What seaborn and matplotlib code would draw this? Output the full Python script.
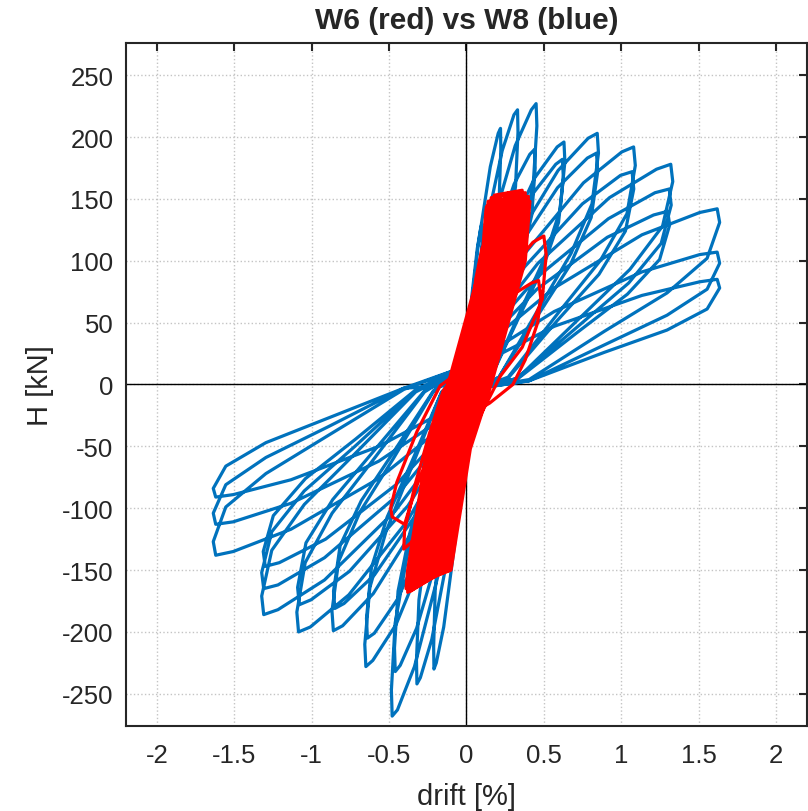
import numpy as np
import pandas as pd
import matplotlib
matplotlib.use("Agg")
import matplotlib.pyplot as plt
import seaborn as sns

# W8 (blue) hysteresis, one list per load cycle, (drift %, H kN)
w8_cycle_01 = [(0.0, 0), (0.01, 33), (0.035, 72), (0.07, 110), (0.093, 127), (0.1, 130),
               (0.101, 120), (0.096, 94), (0.08, 68), (0.055, 39), (0.025, 4),
               (-0.01, -35), (-0.035, -77), (-0.07, -119), (-0.093, -137), (-0.1, -140),
               (-0.101, -129), (-0.096, -101), (-0.08, -73), (-0.055, -42), (-0.025, -4)]
w8_cycle_02 = [(0.0, 15), (0.022, 52), (0.077, 114), (0.154, 176), (0.205, 203), (0.22, 207),
               (0.222, 190), (0.211, 149), (0.176, 108), (0.121, 62), (0.055, 6),
               (-0.021, -58), (-0.074, -127), (-0.147, -196), (-0.195, -225), (-0.21, -230),
               (-0.212, -212), (-0.202, -166), (-0.168, -120), (-0.116, -69), (-0.053, -7)]
w8_cycle_03 = [(0.0, 15), (0.033, 56), (0.116, 122), (0.231, 189), (0.307, 218), (0.33, 222),
               (0.333, 204), (0.317, 160), (0.264, 115), (0.182, 67), (0.083, 7),
               (-0.032, -61), (-0.112, -133), (-0.224, -206), (-0.298, -237), (-0.32, -242),
               (-0.323, -223), (-0.307, -174), (-0.256, -126), (-0.176, -73), (-0.08, -7)]
w8_cycle_04 = [(0.0, 15), (0.045, 57), (0.158, 125), (0.315, 193), (0.419, 222), (0.45, 227),
               (0.455, 209), (0.432, 163), (0.36, 118), (0.248, 68), (0.113, 7),
               (-0.048, -67), (-0.168, -147), (-0.336, -228), (-0.446, -263), (-0.48, -268),
               (-0.485, -247), (-0.461, -193), (-0.384, -139), (-0.264, -80), (-0.12, -8)]
w8_cycle_05 = [(0.0, 15), (0.044, 48), (0.154, 105), (0.308, 162), (0.409, 186), (0.44, 190),
               (0.444, 175), (0.422, 137), (0.352, 99), (0.242, 57), (0.11, 6),
               (-0.046, -58), (-0.161, -128), (-0.322, -197), (-0.428, -227), (-0.46, -232),
               (-0.465, -213), (-0.442, -167), (-0.368, -121), (-0.253, -70), (-0.115, -7)]
w8_cycle_06 = [(0.0, 15), (0.063, 49), (0.221, 108), (0.441, 167), (0.586, 192), (0.63, 196),
               (0.636, 180), (0.605, 141), (0.504, 102), (0.347, 59), (0.158, 6), (0.08, -3),
               (-0.065, -57), (-0.228, -125), (-0.455, -194), (-0.605, -223), (-0.65, -228),
               (-0.657, -210), (-0.624, -164), (-0.52, -119), (-0.358, -68), (-0.163, -7)]
w8_cycle_07 = [(0.0, 15), (0.062, 46), (0.217, 100), (0.434, 155), (0.577, 178), (0.62, 182),
               (0.626, 167), (0.595, 131), (0.496, 95), (0.341, 55), (0.155, 5), (0.08, -3),
               (-0.064, -51), (-0.224, -113), (-0.448, -174), (-0.595, -201), (-0.64, -205),
               (-0.646, -189), (-0.614, -148), (-0.512, -107), (-0.352, -62), (-0.16, -6)]
w8_cycle_08 = [(0.0, 15), (0.085, 51), (0.296, 112), (0.592, 173), (0.786, 199), (0.845, 203),
               (0.853, 187), (0.811, 146), (0.676, 106), (0.465, 61), (0.211, 6), (0.08, -3),
               (-0.086, -50), (-0.301, -109), (-0.602, -169), (-0.8, -195), (-0.86, -199),
               (-0.869, -183), (-0.826, -143), (-0.688, -103), (-0.473, -60), (-0.215, -6)]
w8_cycle_09 = [(0.0, 15), (0.084, 47), (0.294, 103), (0.588, 159), (0.781, 183), (0.84, 187),
               (0.848, 172), (0.806, 135), (0.672, 97), (0.462, 56), (0.21, 6), (0.08, -3),
               (-0.085, -45), (-0.298, -100), (-0.595, -154), (-0.791, -177), (-0.85, -181),
               (-0.859, -167), (-0.816, -130), (-0.68, -94), (-0.468, -54), (-0.213, -5)]
w8_cycle_10 = [(0.0, 15), (0.108, 48), (0.378, 106), (0.756, 163), (1.004, 188), (1.08, 192),
               (1.091, 177), (1.037, 138), (0.864, 100), (0.594, 58), (0.27, 6), (0.08, -3),
               (-0.109, -50), (-0.38, -110), (-0.76, -170), (-1.009, -196), (-1.085, -200),
               (-1.096, -184), (-1.042, -144), (-0.868, -104), (-0.597, -60), (-0.271, -6)]
w8_cycle_11 = [(0.0, 15), (0.107, 43), (0.375, 95), (0.749, 146), (0.995, 169), (1.07, 172),
               (1.081, 158), (1.027, 124), (0.856, 89), (0.589, 52), (0.268, 5), (0.08, -3),
               (-0.108, -45), (-0.378, -98), (-0.756, -151), (-1.004, -174), (-1.08, -178),
               (-1.091, -164), (-1.037, -128), (-0.864, -93), (-0.594, -53), (-0.27, -5)]
w8_cycle_12 = [(0.0, 15), (0.132, 45), (0.462, 98), (0.924, 151), (1.228, 174), (1.32, 178),
               (1.333, 164), (1.267, 128), (1.056, 93), (0.726, 53), (0.33, 5), (0.08, -3),
               (-0.131, -47), (-0.459, -102), (-0.917, -158), (-1.218, -182), (-1.31, -186),
               (-1.323, -171), (-1.258, -134), (-1.048, -97), (-0.721, -56), (-0.328, -6)]
w8_cycle_13 = [(0.0, 15), (0.131, 40), (0.459, 87), (0.917, 134), (1.218, 155), (1.31, 158),
               (1.323, 145), (1.258, 114), (1.048, 82), (0.721, 47), (0.328, 5), (0.08, -3),
               (-0.131, -41), (-0.459, -91), (-0.917, -140), (-1.218, -162), (-1.31, -165),
               (-1.323, -152), (-1.258, -119), (-1.048, -86), (-0.721, -50), (-0.328, -5)]
w8_cycle_14 = [(0.0, 15), (0.13, 35), (0.455, 77), (0.91, 119), (1.209, 137), (1.3, 140),
               (1.313, 129), (1.248, 101), (1.04, 73), (0.715, 42), (0.325, 4), (0.08, -3),
               (-0.13, -37), (-0.455, -81), (-0.91, -125), (-1.209, -144), (-1.3, -147),
               (-1.313, -135), (-1.248, -106), (-1.04, -76), (-0.715, -44), (-0.325, -4)]
w8_cycle_15 = [(0.0, 15), (0.162, 36), (0.567, 78), (1.134, 121), (1.507, 139), (1.62, 142),
               (1.636, 131), (1.555, 102), (1.296, 74), (0.891, 43), (0.405, 4), (0.08, -3),
               (-0.162, -35), (-0.567, -76), (-1.134, -117), (-1.507, -135), (-1.62, -138),
               (-1.636, -127), (-1.555, -99), (-1.296, -72), (-0.891, -41), (-0.405, -4)]
w8_cycle_16 = [(0.0, 15), (0.162, 27), (0.567, 59), (1.134, 91), (1.507, 105), (1.62, 107),
               (1.636, 98), (1.555, 77), (1.296, 56), (0.891, 32), (0.405, 3), (0.08, -3),
               (-0.162, -28), (-0.567, -62), (-1.134, -96), (-1.507, -111), (-1.62, -113),
               (-1.636, -104), (-1.555, -81), (-1.296, -59), (-0.891, -34), (-0.405, -3)]
w8_cycle_17 = [(0.0, 15), (0.162, 21), (0.567, 47), (1.134, 72), (1.507, 83), (1.62, 85),
               (1.636, 78), (1.555, 61), (1.296, 44), (0.891, 26), (0.405, 3), (0.08, -3),
               (-0.162, -23), (-0.567, -50), (-1.134, -77), (-1.507, -89), (-1.62, -91),
               (-1.636, -84), (-1.555, -66), (-1.296, -47), (-0.891, -27), (-0.405, -3), (0.0, 0)]

# W6 (red) hysteresis
w6_small = [(0.0, 0), (0.03, 30), (0.06, 60), (0.07, 62), (0.06, 40), (0.02, 0), (-0.03, -40),
            (-0.06, -65), (-0.07, -66), (-0.06, -45), (-0.02, -5), (0.02, 40), (0.06, 85),
            (0.1, 110), (0.11, 112), (0.1, 85), (0.05, 30), (0.0, -25), (-0.06, -80),
            (-0.1, -115), (-0.14, -130), (-0.2, -145)]
w6_loop_a = [(-0.27, -153), (-0.26, -150), (-0.196, -100), (-0.135, -52), (0.0, 0), (0.11, 50),
             (0.22, 100), (0.245, 140), (0.25, 145), (0.29, 149), (0.285, 140), (0.26, 100),
             (0.15, 50), (0.04, 0), (-0.095, -52), (-0.156, -100), (-0.22, -150)]
w6_loop_b = [(-0.26, -155), (-0.25, -150), (-0.186, -100), (-0.125, -52), (0.01, 0), (0.12, 50),
             (0.23, 100), (0.255, 140), (0.26, 148), (0.28, 152), (0.275, 140), (0.25, 100),
             (0.14, 50), (0.03, 0), (-0.105, -52), (-0.166, -100), (-0.23, -150)]
w6_loop_c = [(-0.25, -158), (-0.24, -150), (-0.176, -100), (-0.115, -52), (0.02, 0), (0.13, 50),
             (0.24, 100), (0.265, 140), (0.27, 155), (0.265, 140), (0.24, 100), (0.13, 50),
             (0.02, 0), (-0.115, -52), (-0.176, -100), (-0.24, -150)]
w6_loop_01 = [(-0.28, -152), (-0.27, -150), (-0.206, -100), (-0.145, -52), (-0.01, 0), (0.10, 50),
              (0.21, 100), (0.235, 140), (0.24, 146), (0.30, 150), (0.295, 140), (0.27, 100),
              (0.16, 50), (0.05, 0), (-0.085, -52), (-0.146, -100), (-0.21, -150)]
w6_loop_02 = [(-0.30, -158), (-0.29, -150), (-0.226, -100), (-0.165, -52), (-0.03, 0), (0.08, 50),
              (0.19, 100), (0.215, 140), (0.22, 149), (0.32, 153), (0.315, 140), (0.29, 100),
              (0.18, 50), (0.07, 0), (-0.065, -52), (-0.126, -100), (-0.19, -150)]
w6_loop_03 = [(-0.32, -162), (-0.31, -150), (-0.246, -100), (-0.185, -52), (-0.05, 0), (0.06, 50),
              (0.17, 100), (0.195, 140), (0.20, 152), (0.34, 156), (0.335, 140), (0.31, 100),
              (0.20, 50), (0.09, 0), (-0.045, -52), (-0.106, -100), (-0.17, -150)]
w6_loop_04 = [(-0.34, -165), (-0.33, -150), (-0.266, -100), (-0.205, -52), (-0.07, 0), (0.04, 50),
              (0.15, 100), (0.175, 140), (0.18, 153), (0.36, 157), (0.355, 140), (0.33, 100),
              (0.22, 50), (0.11, 0), (-0.025, -52), (-0.086, -100), (-0.15, -150)]
w6_loop_05 = [(-0.36, -167), (-0.35, -150), (-0.286, -100), (-0.225, -52), (-0.09, 0), (0.02, 50),
              (0.13, 100), (0.155, 140), (0.16, 151), (0.38, 155), (0.375, 140), (0.35, 100),
              (0.24, 50), (0.13, 0), (-0.005, -52), (-0.066, -100), (-0.13, -150)]
w6_loop_06 = [(-0.38, -168), (-0.37, -150), (-0.306, -100), (-0.245, -52), (-0.11, 0), (0.0, 50),
              (0.11, 100), (0.135, 140), (0.14, 148), (0.40, 152), (0.395, 140), (0.37, 100),
              (0.26, 50), (0.15, 0), (0.015, -52), (-0.046, -100), (-0.11, -150)]
w6_loop_07 = [(-0.39, -165), (-0.38, -150), (-0.316, -100), (-0.255, -52), (-0.12, 0), (-0.01, 50),
              (0.10, 100), (0.125, 140), (0.13, 144), (0.41, 148), (0.405, 140), (0.38, 100),
              (0.27, 50), (0.16, 0), (0.025, -52), (-0.036, -100), (-0.10, -150)]
w6_loop_08 = [(-0.37, -163), (-0.36, -150), (-0.296, -100), (-0.235, -52), (-0.10, 0), (0.01, 50),
              (0.12, 100), (0.145, 140), (0.15, 146), (0.39, 150), (0.385, 140), (0.36, 100),
              (0.25, 50), (0.14, 0), (0.005, -52), (-0.056, -100), (-0.12, -150)]
w6_loop_09 = [(-0.35, -160), (-0.34, -150), (-0.276, -100), (-0.215, -52), (-0.08, 0), (0.03, 50),
              (0.14, 100), (0.165, 140), (0.17, 148), (0.37, 152), (0.365, 140), (0.34, 100),
              (0.23, 50), (0.12, 0), (-0.015, -52), (-0.076, -100), (-0.14, -150)]
w6_loop_10 = [(-0.33, -158), (-0.32, -150), (-0.256, -100), (-0.195, -52), (-0.06, 0), (0.05, 50),
              (0.16, 100), (0.185, 140), (0.19, 146), (0.35, 150), (0.345, 140), (0.32, 100),
              (0.21, 50), (0.10, 0), (-0.035, -52), (-0.096, -100), (-0.16, -150)]
w6_loop_11 = [(-0.31, -156), (-0.30, -150), (-0.236, -100), (-0.175, -52), (-0.04, 0), (0.07, 50),
              (0.18, 100), (0.205, 140), (0.21, 144), (0.33, 148), (0.325, 140), (0.30, 100),
              (0.19, 50), (0.08, 0), (-0.055, -52), (-0.116, -100), (-0.18, -150)]
w6_loop_12 = [(-0.29, -155), (-0.28, -150), (-0.216, -100), (-0.155, -52), (-0.02, 0), (0.09, 50),
              (0.20, 100), (0.225, 140), (0.23, 142), (0.31, 146), (0.305, 140), (0.28, 100),
              (0.17, 50), (0.06, 0), (-0.075, -52), (-0.136, -100), (-0.20, -150)]
w6_late = [(-0.30, -156), (-0.28, -140), (-0.21, -95), (-0.15, -50), (-0.05, 0), (0.05, 40),
           (0.2, 75), (0.33, 100), (0.43, 115), (0.50, 120), (0.515, 105), (0.49, 69), (0.36, 30),
           (0.22, 7), (0.045, -36), (-0.1, -75), (-0.25, -110), (-0.36, -128), (-0.405, -133),
           (-0.4, -118), (-0.33, -80), (-0.24, -40), (-0.15, -5), (0.0, 20), (0.12, 45), (0.22, 60),
           (0.33, 75), (0.42, 82), (0.466, 84), (0.48, 70), (0.46, 50), (0.38, 20), (0.3, 0),
           (0.15, -15), (-0.05, -30), (-0.23, -52), (-0.33, -85), (-0.4, -113), (-0.48, -107),
           (-0.49, -100), (-0.45, -79), (-0.32, -38), (-0.17, -1), (-0.05, 10), (0.0, 15)]

w8_cycles = [w8_cycle_01, w8_cycle_02, w8_cycle_03, w8_cycle_04, w8_cycle_05, w8_cycle_06,
             w8_cycle_07, w8_cycle_08, w8_cycle_09, w8_cycle_10, w8_cycle_11, w8_cycle_12,
             w8_cycle_13, w8_cycle_14, w8_cycle_15, w8_cycle_16, w8_cycle_17]
w6_cycles = [w6_small, w6_loop_a, w6_loop_b, w6_loop_c, w6_loop_01, w6_loop_02, w6_loop_03,
             w6_loop_04, w6_loop_05, w6_loop_06, w6_loop_07, w6_loop_08, w6_loop_09,
             w6_loop_10, w6_loop_11, w6_loop_12, w6_late]

x_ticks = [-2, -1.5, -1, -0.5, 0, 0.5, 1, 1.5, 2]
x_tick_labels = ['-2', '-1.5', '-1', '-0.5', '0', '0.5', '1', '1.5', '2']
y_ticks = [-250, -200, -150, -100, -50, 0, 50, 100, 150, 200, 250]


def to_frame(cycles, name):
    pts = [p for c in cycles for p in c]
    df = pd.DataFrame(pts, columns=['drift', 'H'])
    df['specimen'] = name
    return df


data = pd.concat([to_frame(w8_cycles, 'W8'), to_frame(w6_cycles, 'W6')], ignore_index=True)

sns.set_style('white')
plt.rcParams['font.family'] = ['Liberation Sans', 'DejaVu Sans']
plt.rcParams['axes.unicode_minus'] = False

fig = plt.figure(figsize=(8.08, 8.12), dpi=100)
ax = fig.add_axes([0.1559, 0.1047, 0.8428, 0.8411])

# zero lines
ax.axhline(0, color='black', lw=1.0, zorder=1.5)
ax.axvline(0, color='black', lw=1.0, zorder=1.5)

sns.lineplot(data=data, x='drift', y='H', hue='specimen', hue_order=['W8', 'W6'],
             palette={'W8': '#0072BD', 'W6': '#FF0000'}, sort=False, estimator=None,
             linewidth=2.3, legend=False, ax=ax, zorder=2)
for ln in ax.get_lines():
    ln.set_solid_joinstyle('round')
    ln.set_solid_capstyle('round')

ax.set_xlim(-2.2, 2.2)
ax.set_ylim(-276, 276)
ax.set_xticks(x_ticks)
ax.set_xticklabels(x_tick_labels)
ax.set_yticks(y_ticks)
ax.grid(True, linestyle=':', color='#c4c4c4', linewidth=1.0)
ax.set_axisbelow(True)

ax.tick_params(direction='in', length=6, width=1.5, top=True, right=True,
               labelsize=18.5, labelcolor='#262626', color='#262626')
ax.tick_params(axis='x', pad=12)
ax.tick_params(axis='y', pad=9)
for sp in ax.spines.values():
    sp.set_linewidth(1.5)
    sp.set_color('#262626')

ax.set_xlabel('drift [%]', fontsize=21, color='#262626', labelpad=11)
ax.set_ylabel('H [kN]', fontsize=21, color='#262626', labelpad=6)
ax.set_title('W6 (red) vs W8 (blue)', fontsize=21.5, fontweight='bold', pad=11)

fig.savefig('out.png', dpi=100)
